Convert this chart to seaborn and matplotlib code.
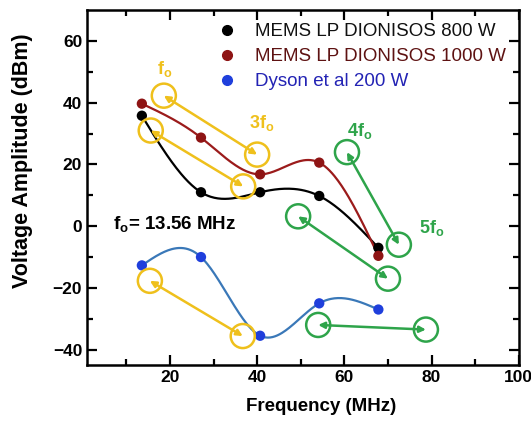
import numpy as np
import pandas as pd
import seaborn as sns
import matplotlib.pyplot as plt
from matplotlib.lines import Line2D

# Daten
freq = [13.56, 27.12, 40.68, 54.24, 67.8]
amp_800 = [35.8, 11.0, 11.0, 9.8, -7.0]
amp_1000 = [39.7, 28.7, 16.8, 20.6, -9.6]
amp_dyson = [-12.7, -10.0, -35.5, -25.0, -27.0]
series_names = ['MEMS LP DIONISOS 800 W', 'MEMS LP DIONISOS 1000 W', 'Dyson et al 200 W']

dot_colors = ['#000000', '#8e1414', '#1f3fdc']
line_colors = ['#000000', '#9b1b1b', '#3a78b8']
text_colors = ['#111111', '#5e1212', '#2323b4']
yellow = '#efc01c'
green = '#2ea44a'

# Kreise (Mittelpunkte) und Doppelpfeile
yellow_circles = [(18.6, 42.3), (15.6, 31.0), (40.0, 23.2), (36.8, 12.9), (15.4, -17.7), (36.7, -35.6)]
yellow_arrows = [(0, 2), (1, 3), (4, 5)]
green_circles = [(60.6, 24.0), (72.5, -6.0), (49.4, 3.2), (70.0, -17.0), (54.0, -32.0), (78.7, -33.5)]
green_arrows = [(0, 1), (2, 3), (4, 5)]


def natural_spline(x, y, n=200):
    x = np.asarray(x, float)
    y = np.asarray(y, float)
    k = len(x)
    h = np.diff(x)
    A = np.zeros((k, k))
    b = np.zeros(k)
    A[0, 0] = A[-1, -1] = 1
    for i in range(1, k - 1):
        A[i, i - 1] = h[i - 1]
        A[i, i] = 2 * (h[i - 1] + h[i])
        A[i, i + 1] = h[i]
        b[i] = 6 * ((y[i + 1] - y[i]) / h[i] - (y[i] - y[i - 1]) / h[i - 1])
    m = np.linalg.solve(A, b)
    xs = np.linspace(x[0], x[-1], n)
    idx = np.clip(np.searchsorted(x, xs) - 1, 0, k - 2)
    x0, x1 = x[idx], x[idx + 1]
    hh = x1 - x0
    ys = (m[idx] * (x1 - xs) ** 3 / (6 * hh) + m[idx + 1] * (xs - x0) ** 3 / (6 * hh)
          + (y[idx] / hh - m[idx] * hh / 6) * (x1 - xs)
          + (y[idx + 1] / hh - m[idx + 1] * hh / 6) * (xs - x0))
    return xs, ys


sns.set_theme(style='ticks')
plt.rcParams['font.family'] = ['Liberation Sans', 'DejaVu Sans']
plt.rcParams['mathtext.fontset'] = 'custom'
plt.rcParams['mathtext.rm'] = 'Liberation Sans'
plt.rcParams['mathtext.bf'] = 'Liberation Sans:bold'
plt.rcParams['text.color'] = 'black'
plt.rcParams['axes.labelcolor'] = 'black'

df = pd.DataFrame({
    'freq': freq * 3,
    'amp': amp_800 + amp_1000 + amp_dyson,
    'series': [s for s in series_names for _ in freq],
})

fig = plt.figure(figsize=(5.31, 4.24), dpi=100)
ax = fig.add_axes([0.164, 0.139, 0.813, 0.837])

for vals, lc in zip([amp_800, amp_1000, amp_dyson], line_colors):
    xs, ys = natural_spline(freq, vals)
    sns.lineplot(x=xs, y=ys, ax=ax, color=lc, lw=1.6, sort=False, zorder=2)

sns.scatterplot(data=df, x='freq', y='amp', hue='series', palette=dot_colors,
                s=55, edgecolor='none', legend=False, ax=ax, zorder=3)

for circles, arrows, col in [(yellow_circles, yellow_arrows, yellow), (green_circles, green_arrows, green)]:
    cx, cy = zip(*circles)
    ax.scatter(cx, cy, s=300, facecolors='none', edgecolors=col, linewidths=1.8, zorder=4)
    for a, b in arrows:
        ax.annotate('', xy=circles[b], xytext=circles[a],
                    arrowprops=dict(arrowstyle='<|-|>', color=col, lw=1.8,
                                    mutation_scale=9, shrinkA=0, shrinkB=0), zorder=4)

lab = dict(fontsize=13, fontweight='bold', ha='center', va='center')
ax.text(18.9, 51, r'f$_\mathbf{o}$', color=yellow, **lab)
ax.text(41.0, 33.5, r'3f$_\mathbf{o}$', color=yellow, **lab)
ax.text(63.5, 31, r'4f$_\mathbf{o}$', color=green, **lab)
ax.text(80, -0.5, r'5f$_\mathbf{o}$', color=green, **lab)
ax.text(6.9, 0.5, r'f$_\mathbf{o}$= 13.56 MHz', color='black', fontsize=13.5,
        fontweight='bold', ha='left', va='center')

handles = [Line2D([], [], ls='none', marker='o', ms=7, color=c) for c in dot_colors]
leg = ax.legend(handles, series_names, loc='upper right', bbox_to_anchor=(1.0, 1.0),
                frameon=False, fontsize=13.5, handletextpad=1.0, handlelength=1.0,
                labelspacing=0.42, borderaxespad=0.3)
for t, c in zip(leg.get_texts(), text_colors):
    t.set_color(c)

ax.set_xlim(1, 100)
ax.set_ylim(-45, 70)
ax.set_xticks([20, 40, 60, 80, 100])
ax.set_yticks([-40, -20, 0, 20, 40, 60])
ax.set_xticks(np.arange(10, 100, 20), minor=True)
ax.set_yticks([-30, -10, 10, 30, 50], minor=True)
ax.tick_params(which='both', direction='in', top=True, right=True, width=1.6, colors='black')
ax.tick_params(which='major', length=7, labelsize=12.5)
ax.tick_params(which='minor', length=4)
for lbl in ax.get_xticklabels() + ax.get_yticklabels():
    lbl.set_fontweight('bold')
for sp in ax.spines.values():
    sp.set_linewidth(1.8)
    sp.set_color('black')

ax.set_xlabel('Frequency (MHz)', fontsize=13.5, fontweight='bold', color='black')
ax.set_ylabel('Voltage Amplitude (dBm)', fontsize=15.5, fontweight='bold', color='black')
ax.xaxis.set_label_coords(0.543, -0.093)
ax.yaxis.set_label_coords(-0.125, 0.577)

fig.savefig('out.png', dpi=100)
